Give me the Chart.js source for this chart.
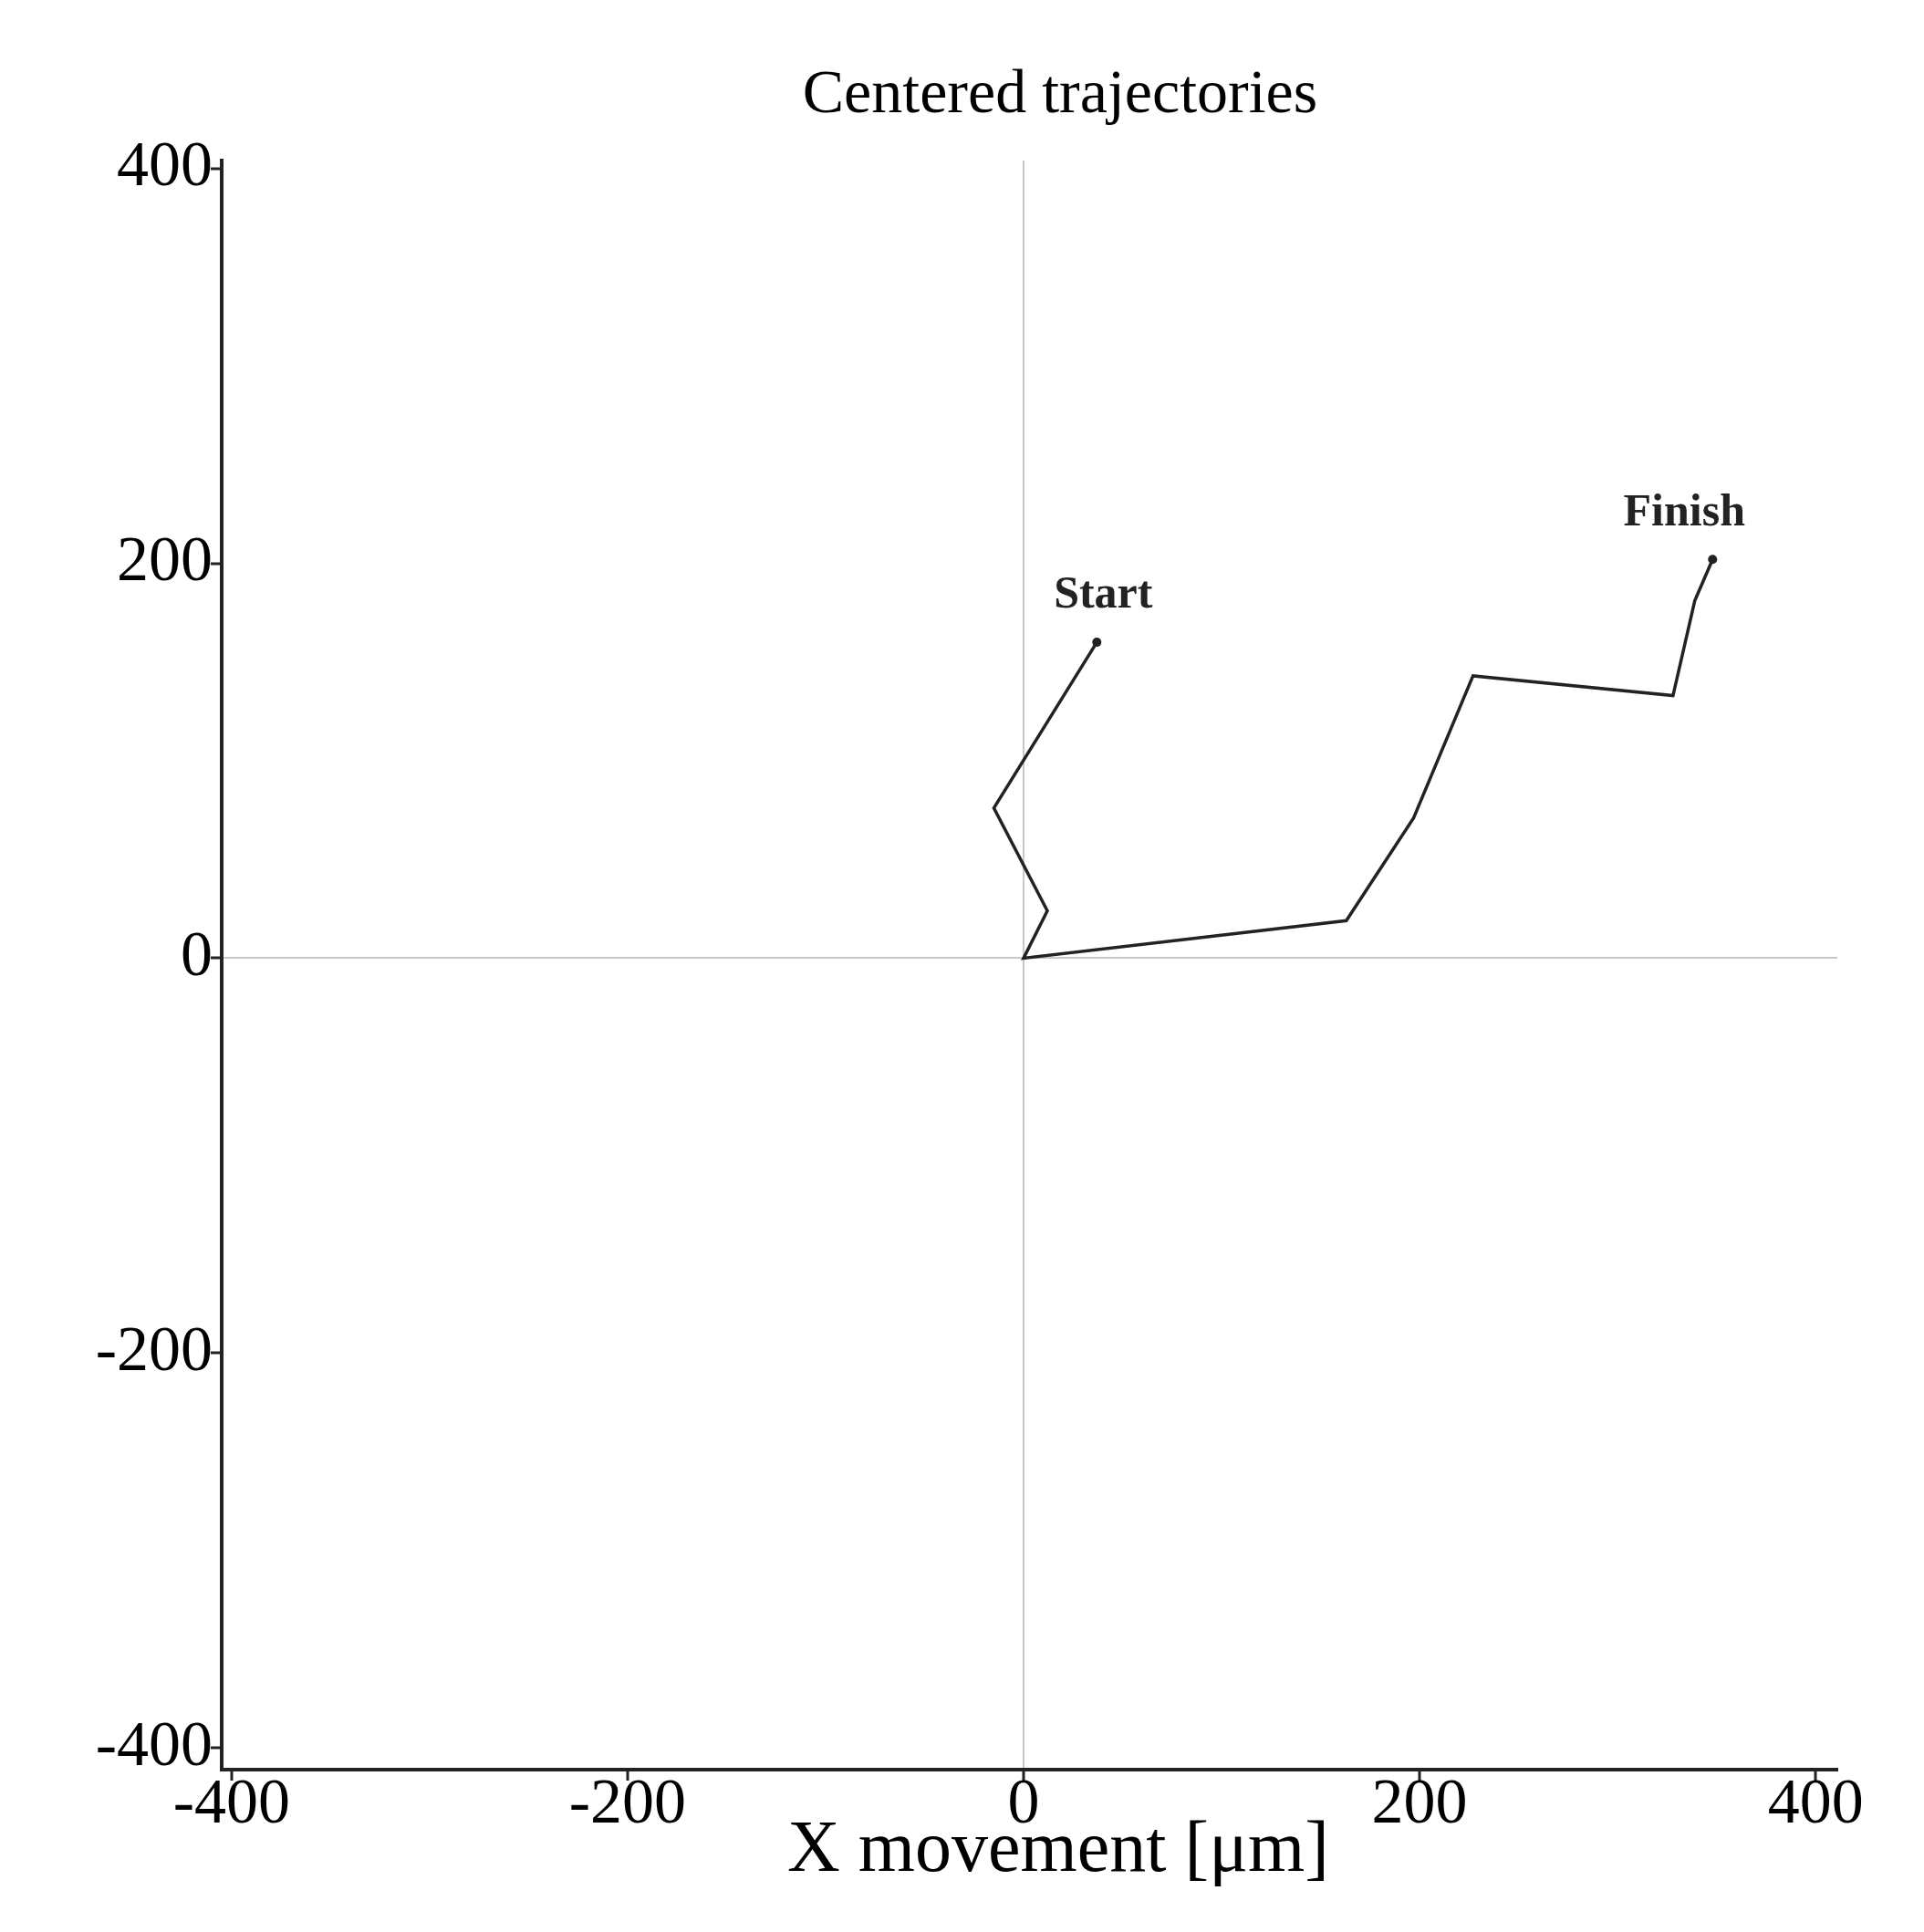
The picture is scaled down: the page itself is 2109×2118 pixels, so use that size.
<!DOCTYPE html>
<html>
<head>
<meta charset="utf-8">
<script src="https://cdn.jsdelivr.net/npm/chart.js@4.4.1/dist/chart.umd.min.js"></script>
<style>
  html, body { margin: 0; padding: 0; background: #fff; }
  #wrap { width: 2109px; height: 2118px; }
</style>
</head>
<body>
<div id="wrap"><canvas id="c" width="2109" height="2118"></canvas></div>
<script>
'use strict';

/* Trajectory (µm) */
const xMove = [37, -15, 12, 0, 163, 197, 227, 328, 339, 348];
const yMove = [160, 76, 24, 0, 19, 71, 143, 133, 181, 202];
const tickVals = [-400, -200, 0, 200, 400];
const titleText = 'Centered trajectories';
const xTitleText = 'X movement [\u03bcm]';

const SERIF = '"Liberation Serif", "Times New Roman", serif';
const INK = '#222';

const points = xMove.map((x, i) => ({ x, y: yMove[i] }));
const radii = points.map((_, i) => (i === 0 || i === points.length - 1 ? 5 : 0));

/* Title + Start/Finish */
const annot = {
  id: 'annot',
  afterDraw(chart) {
    const { ctx, scales: { x, y } } = chart;
    ctx.save();
    ctx.fillStyle = '#000';
    ctx.textAlign = 'center';
    ctx.textBaseline = 'middle';
    ctx.font = `68px ${SERIF}`;
    ctx.fillText(titleText, 1162, 105);
    ctx.font = `80px ${SERIF}`;
    ctx.fillText(xTitleText, x.getPixelForValue(0) + 38, 2030);

    ctx.fillStyle = INK;
    ctx.font = `bold 50px ${SERIF}`;
    const s = points[0], f = points[points.length - 1];
    ctx.fillText('Start', x.getPixelForValue(s.x) + 7, y.getPixelForValue(s.y) - 51);
    ctx.fillText('Finish', x.getPixelForValue(f.x) - 31, y.getPixelForValue(f.y) - 50);
    ctx.restore();
  },
};

const gridOpts = {
  color: c => (c.tick && c.tick.value === 0 ? '#c8c8c8' : 'rgba(0,0,0,0)'),
  tickColor: INK,
  tickLength: 12,
  lineWidth: 2,
  tickWidth: 3,
};

new Chart(document.getElementById('c'), {
  type: 'scatter',
  data: {
    datasets: [{
      data: points,
      showLine: true,
      borderColor: INK,
      backgroundColor: INK,
      borderWidth: 3.5,
      pointRadius: radii,
      pointBackgroundColor: INK,
      pointBorderWidth: 0,
      tension: 0,
    }],
  },
  options: {
    responsive: false,
    animation: false,
    devicePixelRatio: 1,
    layout: { padding: { top: 176, right: 95, left: 0, bottom: 0 } },
    plugins: { legend: { display: false }, tooltip: { enabled: false }, title: { display: false } },
    scales: {
      x: {
        type: 'linear',
        min: -405, max: 411,
        afterBuildTicks: sc => { sc.ticks = tickVals.map(v => ({ value: v })); },
        afterFit: sc => { sc.height = 178; },
        grid: gridOpts,
        border: { color: INK, width: 4 },
        ticks: { color: '#000', font: { family: SERIF, size: 70 }, padding: -14, maxRotation: 0 },
      },
      y: {
        type: 'linear',
        min: -411, max: 404,
        afterBuildTicks: sc => { sc.ticks = tickVals.map(v => ({ value: v })); },
        afterFit: sc => { sc.width = 243; },
        grid: gridOpts,
        border: { color: INK, width: 4 },
        ticks: { color: '#000', font: { family: SERIF, size: 70 }, padding: -2 },
      },
    },
  },
  plugins: [annot],
});
</script>
</body>
</html>
